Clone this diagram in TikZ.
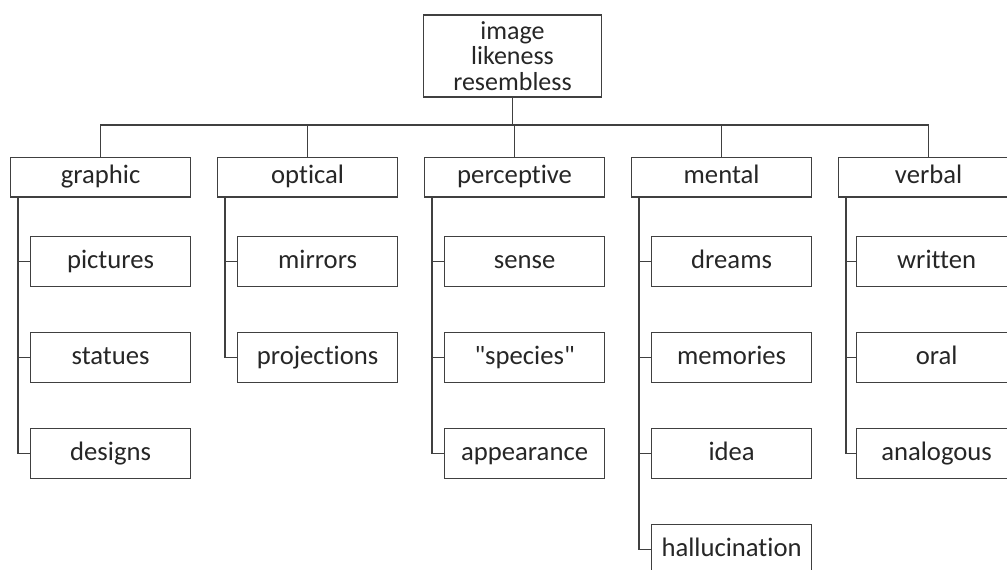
\documentclass[tikz,border=0pt]{standalone}
\usepackage{fontspec}
\setmainfont{Carlito}[Ligatures={TeXOff,NoCommon}]

\begin{document}
\begin{tikzpicture}[x=0.75pt,y=-0.75pt,
		line width=0.9pt,
		every node/.style={font=\fontsize{20}{18}\selectfont,text=black!85},
		topbox/.style={draw=black!75,align=center,font=\fontsize{19.5}{19}\selectfont,minimum width=134pt,minimum height=61.5pt,inner sep=0pt},
		kindbox/.style={draw=black!75,anchor=north west,minimum width=135pt,minimum height=29.5pt,inner sep=0pt,text height=14pt,text depth=4pt},
		itembox/.style={draw=black!75,anchor=north west,minimum width=120pt,minimum height=37.5pt,inner sep=0pt,text height=14pt,text depth=4pt}]
		\useasboundingbox (0,0) rectangle (1007,569);
		
		% root
		\node[topbox] (img) at (512.5,56) {image\\likeness\\resembless};
		\coordinate (bus) at (512.5,125);
		
		% kinds
		\node[kindbox] (gra) at (10,157) {graphic};
		\node[kindbox] (opt) at (217,157) {optical};
		\node[kindbox] (per) at (424,157) {perceptive};
		\node[kindbox] (men) at (631,157) {mental};
		\node[kindbox] (ver) at (838,157) {verbal};
		
		\draw[black!75] (img.south) -- (bus);
		\draw[black!75] (gra.north) |- (bus) -| (ver.north);
		\draw[black!75] (opt.north) -- (opt.north |- bus);
		\draw[black!75] (per.north) -- (per.north |- bus);
		\draw[black!75] (men.north) -- (men.north |- bus);
		
		% graphic
		\node[itembox] (pic) at (30,236) {pictures};
		\node[itembox] (sta) at (30,332) {statues};
		\node[itembox] (des) at (30,428) {designs};
		\draw[black!75] ([xshift=6pt]gra.south west) |- (des.west);
		\draw[black!75] ([xshift=6pt]gra.south west) |- (pic.west);
		\draw[black!75] ([xshift=6pt]gra.south west) |- (sta.west);
		
		% optical
		\node[itembox] (mir) at (237,236) {mirrors};
		\node[itembox] (pro) at (237,332) {projections};
		\draw[black!75] ([xshift=6pt]opt.south west) |- (pro.west);
		\draw[black!75] ([xshift=6pt]opt.south west) |- (mir.west);
		
		% perceptive
		\node[itembox] (sen) at (444,236) {sense};
		\node[itembox] (spe) at (444,332) {"species"};
		\node[itembox] (app) at (444,428) {appearance};
		\draw[black!75] ([xshift=6pt]per.south west) |- (app.west);
		\draw[black!75] ([xshift=6pt]per.south west) |- (sen.west);
		\draw[black!75] ([xshift=6pt]per.south west) |- (spe.west);
		
		% mental
		\node[itembox] (dre) at (651,236) {dreams};
		\node[itembox] (mem) at (651,332) {memories};
		\node[itembox] (ide) at (651,428) {idea};
		\node[itembox] (hal) at (651,524) {hallucination};
		\draw[black!75] ([xshift=6pt]men.south west) |- (hal.west);
		\draw[black!75] ([xshift=6pt]men.south west) |- (dre.west);
		\draw[black!75] ([xshift=6pt]men.south west) |- (mem.west);
		\draw[black!75] ([xshift=6pt]men.south west) |- (ide.west);
		
		% verbal
		\node[itembox] (wri) at (856,236) {written};
		\node[itembox] (ora) at (856,332) {oral};
		\node[itembox] (ana) at (856,428) {analogous};
		\draw[black!75] ([xshift=6pt]ver.south west) |- (ana.west);
		\draw[black!75] ([xshift=6pt]ver.south west) |- (wri.west);
		\draw[black!75] ([xshift=6pt]ver.south west) |- (ora.west);
\end{tikzpicture}
\end{document}
